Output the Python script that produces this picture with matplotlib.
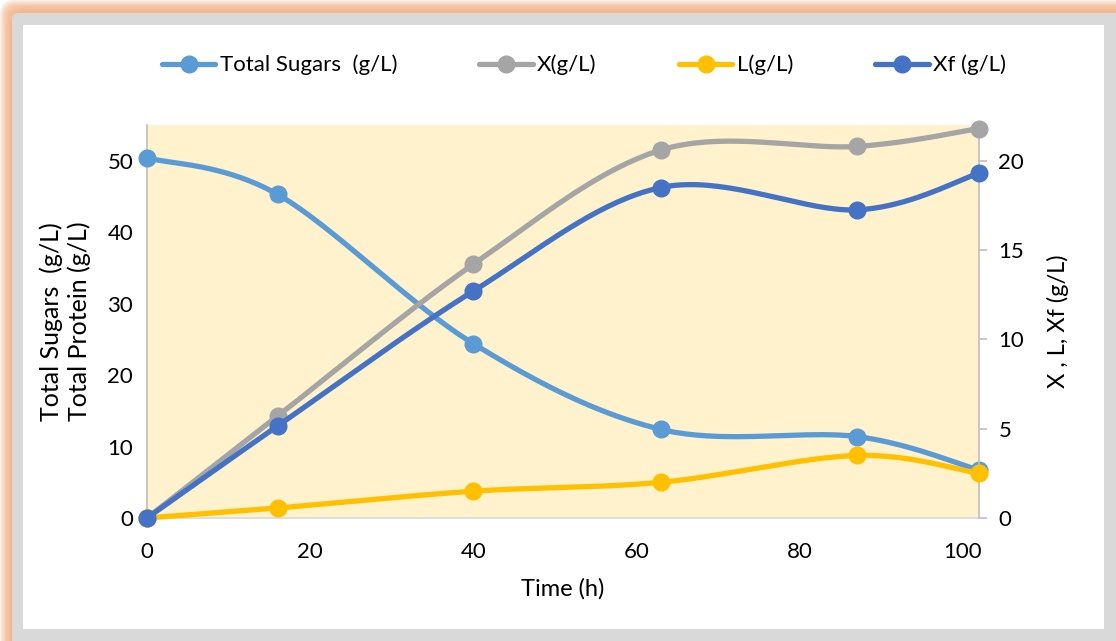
import numpy as np
import matplotlib
matplotlib.use("Agg")
import matplotlib.pyplot as plt
from matplotlib.patches import FancyBboxPatch, Rectangle
from matplotlib.lines import Line2D

# ---- data ----
time_h = [0, 16, 40, 63, 87, 102]
total_sugars = [50.4, 45.3, 24.4, 12.4, 11.4, 6.7]   # left axis
x_biomass = [0.0, 5.7, 14.2, 20.6, 20.8, 21.8]       # right axis
l_values = [0.0, 0.56, 1.5, 2.0, 3.5, 2.5]           # right axis
xf_values = [0.0, 5.15, 12.7, 18.5, 17.25, 19.3]     # right axis

x_ticks = [0, 20, 40, 60, 80, 100]
left_ticks = [0, 10, 20, 30, 40, 50]
right_ticks = [0, 5, 10, 15, 20]

C_SUGAR = "#5B9BD5"
C_X = "#A5A5A5"
C_L = "#FFC000"
C_XF = "#4472C4"

FONT = "Lato"
W, H = 1116, 641


def smooth(xs, ys, n=40):
    """Cubic Bezier smoothing through every point (Catmull-Rom tangents)."""
    p = np.column_stack([xs, ys]).astype(float)
    out = [p[0]]
    t = np.linspace(0, 1, n)[1:, None]
    for i in range(len(p) - 1):
        p0 = p[i - 1] if i > 0 else p[i]
        p1, p2 = p[i], p[i + 1]
        p3 = p[i + 2] if i + 2 < len(p) else p[i + 1]
        c1 = p1 + (p2 - p0) / 6.0
        c2 = p2 - (p3 - p1) / 6.0
        seg = ((1 - t) ** 3) * p1 + 3 * ((1 - t) ** 2) * t * c1 + 3 * (1 - t) * t ** 2 * c2 + t ** 3 * p2
        out.extend(seg)
    out = np.array(out)
    return out[:, 0], out[:, 1]


fig = plt.figure(figsize=(W / 100, H / 100), dpi=100, facecolor="white")

# ---- chart frame: soft orange glow, gray border, white panel ----
bg = fig.add_axes([0, 0, 1, 1], zorder=-10)
bg.set_xlim(0, W)
bg.set_ylim(H, 0)
bg.axis("off")
for k in range(12):
    bg.add_patch(FancyBboxPatch((k, k), W + 40, H + 40,
                                boxstyle="round,pad=0,rounding_size=14",
                                facecolor="#F4B183", edgecolor="none", alpha=0.16))
bg.add_patch(FancyBboxPatch((12, 13), W + 40, H + 40,
                            boxstyle="round,pad=0,rounding_size=6",
                            facecolor="#D9D9D9", edgecolor="none"))
bg.add_patch(Rectangle((23, 25), 1104 - 23, 629 - 25, facecolor="white", edgecolor="none"))

# ---- plot area ----
left, right_px, top_px, bottom_px = 147, 979, 125, 518
ax = fig.add_axes([left / W, 1 - bottom_px / H, (right_px - left) / W, (bottom_px - top_px) / H])
ax.set_facecolor("#FFF2CC")
ax2 = ax.twinx()
ax2.patch.set_visible(False)

ax.set_xlim(0, 102)
ax.set_ylim(0, 55)
ax2.set_ylim(0, 22)

lw = 3.8
ms = 12

sx, sy = smooth(time_h, total_sugars)
ax.plot(sx, sy, color=C_SUGAR, lw=lw, solid_capstyle="round", clip_on=False, zorder=3)
ax.plot(time_h, total_sugars, ls="none", marker="o", ms=ms, color=C_SUGAR, clip_on=False, zorder=4)

for vals, col in [(x_biomass, C_X), (l_values, C_L), (xf_values, C_XF)]:
    cx, cy = smooth(time_h, vals)
    ax2.plot(cx, cy, color=col, lw=lw, solid_capstyle="round", clip_on=False, zorder=3)
    ax2.plot(time_h, vals, ls="none", marker="o", ms=ms, color=col, clip_on=False, zorder=3)

# ---- axes styling ----
for a in (ax, ax2):
    for s in a.spines.values():
        s.set_visible(False)
ax.spines["left"].set_visible(True)
ax.spines["left"].set_color("#BFBFBF")
ax.spines["left"].set_linewidth(1.2)
ax.spines["bottom"].set_visible(True)
ax.spines["bottom"].set_color("#D9D9D9")
ax.spines["bottom"].set_linewidth(1.2)
ax2.spines["right"].set_visible(True)
ax2.spines["right"].set_color("#BFBFBF")
ax2.spines["right"].set_linewidth(1.2)

TICK_SIZE = 16
ax.set_xticks(x_ticks)
ax.set_yticks(left_ticks)
ax2.set_yticks(right_ticks)
ax.tick_params(axis="x", length=0, pad=17, labelsize=TICK_SIZE)
ax.tick_params(axis="y", length=0, pad=10, labelsize=TICK_SIZE)
ax2.tick_params(axis="y", length=6, width=1.2, color="#BFBFBF", pad=8, labelsize=TICK_SIZE)
for lab in ax.get_xticklabels() + ax.get_yticklabels() + ax2.get_yticklabels():
    lab.set_fontfamily(FONT)
    lab.set_color("black")

LABEL_SIZE = 17
ax.set_xlabel("Time (h)", fontsize=LABEL_SIZE, fontfamily=FONT, labelpad=12)
ax.set_ylabel("Total Sugars  (g/L)\nTotal Protein (g/L)", fontsize=18,
              fontfamily=FONT, labelpad=12, linespacing=1.2)
ax2.set_ylabel("X , L, Xf (g/L)", fontsize=LABEL_SIZE, fontfamily=FONT, labelpad=16)

# ---- legend ----
handles = [
    Line2D([], [], color=C_SUGAR, lw=lw, marker="o", ms=ms, solid_capstyle="round"),
    Line2D([], [], color=C_X, lw=lw, marker="o", ms=ms, solid_capstyle="round"),
    Line2D([], [], color=C_L, lw=lw, marker="o", ms=ms, solid_capstyle="round"),
    Line2D([], [], color=C_XF, lw=lw, marker="o", ms=ms, solid_capstyle="round"),
]
labels = ["Total Sugars  (g/L)", "X(g/L)", "L(g/L)", "Xf (g/L)"]
leg = fig.legend(handles, labels, loc="center", bbox_to_anchor=(584 / W, 1 - 65 / H),
                 ncol=4, frameon=False, handlelength=2.4, handletextpad=0.2,
                 columnspacing=3.7, prop={"family": FONT, "size": 16})

fig.savefig("out.png", dpi=100, facecolor="white")
